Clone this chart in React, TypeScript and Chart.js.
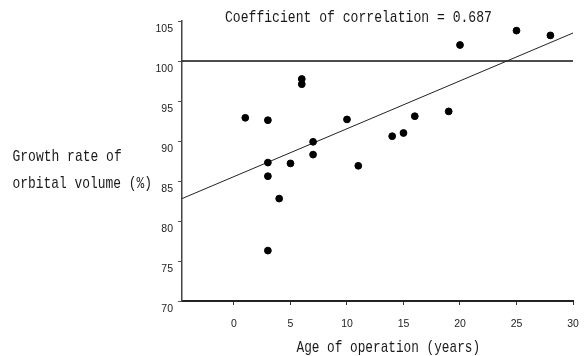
import React, { useEffect, useRef } from "react";
import { Chart, registerables } from "chart.js";

Chart.register(...registerables);

// ---- data ----
const ageYears = [1, 3, 3, 3, 3, 4, 5, 6, 6, 7, 7, 10, 11, 14, 15, 16, 19, 20, 25, 28];
const growthRate = [92.9, 92.6, 87.3, 85.6, 76.3, 82.8, 87.2, 97.75, 97.1, 89.9, 88.3, 92.7, 86.9, 90.6, 91.0, 93.1, 93.7, 102.0, 103.8, 103.2];
const fitX = [-4.6, 30];
const fitY = [82.8, 103.5];
const referenceY = 100;
const xRange = [-4.6, 30];
const yRange = [70, 105];
const tickStep = 5;

const titleText = "Coefficient of correlation = 0.687";
const yTitleLines = ["Growth rate of", "orbital volume (%)"];
const xTitleText = "Age of operation (years)";

const MONO = "'Liberation Mono', 'DejaVu Sans Mono', monospace";
const SANS = "'Liberation Sans', Arial, sans-serif";

function drawMono(ctx: CanvasRenderingContext2D, s: string, x: number, y: number, adv: number) {
  ctx.save();
  ctx.font = `17px ${MONO}`;
  ctx.textAlign = "left";
  ctx.textBaseline = "alphabetic";
  ctx.fillStyle = "#1a1a1a";
  const w = ctx.measureText(s).width;
  const sx = (s.length * adv) / w;
  ctx.translate(x, y);
  ctx.scale(sx, 1);
  ctx.fillText(s, 0, 0);
  ctx.restore();
}

const textPlugin = {
  id: "textPlugin",
  afterDraw(chart: any) {
    const ctx = chart.ctx as CanvasRenderingContext2D;
    drawMono(ctx, titleText, 225, 21.5, 7.85);
    drawMono(ctx, yTitleLines[0], 12.5, 161, 7.8);
    drawMono(ctx, yTitleLines[1], 12.5, 187.5, 7.75);
    drawMono(ctx, xTitleText, 296.5, 351.5, 7.65);
  },
};

export default function App() {
  const ref = useRef<HTMLCanvasElement | null>(null);

  useEffect(() => {
    if (!ref.current) return;
    const points = ageYears.map((x, i) => ({ x, y: growthRate[i] }));
    const fit = fitX.map((x, i) => ({ x, y: fitY[i] }));
    const refLine = xRange.map((x) => ({ x, y: referenceY }));

    const chart = new Chart(ref.current, {
      type: "scatter",
      data: {
        datasets: [
          {
            data: points,
            backgroundColor: "#000",
            borderColor: "#000",
            pointRadius: 3.4,
            pointHoverRadius: 3.4,
          },
          {
            data: fit,
            showLine: true,
            borderColor: "#222",
            borderWidth: 1,
            pointRadius: 0,
          },
          {
            data: refLine,
            showLine: true,
            borderColor: "#111",
            borderWidth: 1.6,
            pointRadius: 0,
          },
        ],
      },
      options: {
        responsive: false,
        animation: false,
        events: [],
        layout: { padding: { left: 0, right: 11, top: 21, bottom: 0 } },
        plugins: {
          legend: { display: false },
          tooltip: { enabled: false },
          title: { display: false },
        },
        scales: {
          x: {
            type: "linear",
            min: xRange[0],
            max: xRange[1],
            afterFit: (s: any) => {
              s.height = 55;
              s.paddingLeft = 0;
              s.paddingRight = 0;
            },
            afterBuildTicks: (s: any) => {
              s.ticks = s.ticks.filter((t: any) => t.value >= 0);
            },
            ticks: {
              stepSize: tickStep,
              color: "#222",
              font: { family: SANS, size: 10.5 },
              padding: 13,
              maxRotation: 0,
            },
            grid: {
              drawOnChartArea: false,
              drawTicks: true,
              tickLength: 4,
              color: "#333",
            },
            border: { color: "#222", width: 2 },
          },
          y: {
            type: "linear",
            min: yRange[0],
            max: yRange[1],
            afterFit: (s: any) => {
              s.width = 182;
              s.paddingTop = 0;
              s.paddingBottom = 0;
            },
            ticks: {
              stepSize: tickStep,
              color: "#222",
              font: { family: SANS, size: 10.5 },
              padding: 5,
              labelOffset: 8,
            },
            grid: {
              drawOnChartArea: false,
              drawTicks: true,
              tickLength: 4,
              color: "#555",
            },
            border: { color: "#444", width: 1.5 },
          },
        },
      },
      plugins: [textPlugin],
    });
    return () => chart.destroy();
  }, []);

  return (
    <div style={{ position: "fixed", left: 0, top: 0, width: 584, height: 356, background: "#fff" }}>
      <canvas ref={ref} width={584} height={356} style={{ display: "block" }} />
    </div>
  );
}
